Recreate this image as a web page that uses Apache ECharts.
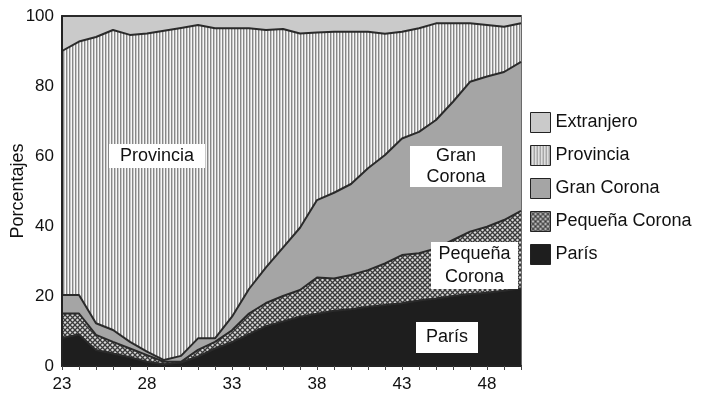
<!DOCTYPE html>
<html>
<head>
<meta charset="utf-8">
<script src="https://cdn.jsdelivr.net/npm/echarts@6/dist/echarts.min.js"></script>
<style>
  html, body { margin: 0; padding: 0; background: #fff; }
  #chart { width: 704px; height: 398px; }
</style>
</head>
<body>
<div id="chart"></div>
<script>
// edades 23..50
var edades = ['23','24','25','26','27','28','29','30','31','32','33','34','35','36','37','38','39','40','41','42','43','44','45','46','47','48','49','50'];

// porcentajes por capa (apiladas de abajo hacia arriba)
var paris = [8, 9, 4.6, 3.6, 2.5, 1.2, 0.5, 1, 2.7, 5, 6.8, 9.1, 11.4, 12.7, 14.1, 14.9, 15.8, 16.2, 16.9, 17.4, 17.9, 18.7, 19.3, 20, 20.6, 20.9, 21.5, 22.2];
var pequenaCorona = [7, 6, 4.3, 3.3, 2.5, 1.9, 0.7, 0.2, 1.9, 1.9, 3.4, 5.9, 6.6, 7.3, 7.6, 10.4, 9.2, 9.8, 10.5, 11.9, 13.8, 13.5, 14.3, 16, 17.8, 18.9, 20.2, 22.1];
var granCorona = [5.3, 5.3, 3.3, 3.4, 1.9, 1, 0.5, 1.7, 3.3, 1, 3.9, 7, 10.2, 13.8, 17.8, 22.1, 24.5, 26, 29.1, 31, 33.3, 34.7, 36.7, 39.5, 42.8, 42.9, 42.3, 42.6];
var provincia = [69.7, 72.4, 81.8, 85.7, 87.7, 90.9, 94.1, 93.7, 89.5, 88.6, 82.4, 74.5, 67.8, 62.5, 55.5, 47.9, 46, 43.5, 39, 34.6, 30.5, 29.6, 27.6, 22.4, 16.7, 14.7, 12.9, 11];
var extranjero = [10, 7.3, 6, 4, 5.4, 5, 4.2, 3.4, 2.6, 3.5, 3.5, 3.5, 4, 3.7, 5, 4.7, 4.5, 4.5, 4.5, 5.1, 4.5, 3.5, 2.1, 2.1, 2.1, 2.6, 3.1, 2.1];

var yTicks = [0, 20, 40, 60, 80, 100];

var FONT = '"Liberation Sans", Arial, sans-serif';

// tramas
function rayas() {
  var c = document.createElement('canvas');
  c.width = 3; c.height = 4;
  var g = c.getContext('2d');
  g.fillStyle = '#f6f6f6'; g.fillRect(0, 0, 3, 4);
  g.fillStyle = '#878787'; g.fillRect(0, 0, 1, 4);
  g.fillStyle = '#c8c8c8'; g.fillRect(1, 0, 1, 4);
  return { image: c, repeat: 'repeat' };
}
function cuadricula() {
  var c = document.createElement('canvas');
  c.width = 5; c.height = 5;
  var g = c.getContext('2d');
  g.fillStyle = '#d9d9d9'; g.fillRect(0, 0, 5, 5);
  g.strokeStyle = '#3a3a3a'; g.lineWidth = 1.3;
  g.beginPath();
  g.moveTo(-1, -1); g.lineTo(6, 6);
  g.moveTo(6, -1); g.lineTo(-1, 6);
  g.stroke();
  return { image: c, repeat: 'repeat' };
}

var colores = {
  'París': '#1e1e1e',
  'Pequeña Corona': cuadricula(),
  'Gran Corona': '#a5a5a5',
  'Provincia': rayas(),
  'Extranjero': '#cacaca'
};

function capa(nombre, datos) {
  return {
    name: nombre,
    type: 'line',
    stack: 'total',
    data: datos,
    symbol: 'none',
    lineStyle: { color: '#2a2a2a', width: 2 },
    itemStyle: { color: colores[nombre] },
    areaStyle: { color: colores[nombre], opacity: 1 },
    z: 2
  };
}

// recuadros blancos con el nombre de cada zona
function caja(x, y, w, h, lineas) {
  var els = [{
    type: 'rect',
    z: 100,
    shape: { x: x, y: y, width: w, height: h },
    style: { fill: '#fff' }
  }];
  var lh = h / lineas.length;
  lineas.forEach(function (t, i) {
    els.push({
      type: 'text',
      z: 101,
      x: x + w / 2,
      y: y + lh * i + lh / 2,
      style: { text: t, fill: '#111', fontSize: 18, fontFamily: FONT, align: 'center', verticalAlign: 'middle' }
    });
  });
  return els;
}

var chart = echarts.init(document.getElementById('chart'));
chart.setOption({
  animation: false,
  backgroundColor: '#fff',
  textStyle: { fontFamily: FONT },
  grid: {
    left: 62, right: 183, top: 16, bottom: 32,
    containLabel: false,
    outerBoundsMode: 'none',
    show: true, borderColor: '#6a6a6a', borderWidth: 2, backgroundColor: 'transparent'
  },
  legend: {
    orient: 'vertical',
    left: 525, top: 107,
    itemWidth: 20, itemHeight: 20, itemGap: 12,
    icon: 'rect',
    textStyle: { fontSize: 18, lineHeight: 20, color: '#111', fontFamily: FONT },
    data: ['Extranjero', 'Provincia', 'Gran Corona', 'Pequeña Corona', 'París'].map(function (n) {
      return { name: n, itemStyle: { color: colores[n], borderColor: '#222', borderWidth: 1 } };
    })
  },
  xAxis: {
    type: 'category',
    data: edades,
    boundaryGap: false,
    axisLine: { lineStyle: { color: '#222', width: 2 } },
    axisTick: { show: true, interval: 0, length: 4, lineStyle: { color: '#444' } },
    axisLabel: { interval: 4, color: '#111', fontSize: 17, margin: 10 },
    splitLine: { show: false },
    z: 10
  },
  yAxis: {
    type: 'value',
    min: 0, max: 100, interval: 20,
    name: 'Porcentajes',
    nameLocation: 'middle',
    nameGap: 35,
    nameMoveOverlap: false,
    nameTextStyle: { fontSize: 18, color: '#111' },
    axisLine: { show: true, lineStyle: { color: '#222', width: 2 } },
    axisTick: { show: false },
    axisLabel: { color: '#111', fontSize: 17, margin: 8,
      formatter: function (v) { return yTicks.indexOf(v) >= 0 ? String(v) : ''; } },
    splitLine: { show: false },
    z: 10
  },
  series: [
    capa('París', paris),
    capa('Pequeña Corona', pequenaCorona),
    capa('Gran Corona', granCorona),
    capa('Provincia', provincia),
    capa('Extranjero', extranjero)
  ],
  graphic: [].concat(
    caja(109, 144, 96, 24, ['Provincia']),
    caja(410, 146, 92, 41, ['Gran', 'Corona']),
    caja(431, 242, 87, 47, ['Pequeña', 'Corona']),
    caja(416, 322, 62, 31, ['París'])
  )
});
</script>
</body>
</html>
